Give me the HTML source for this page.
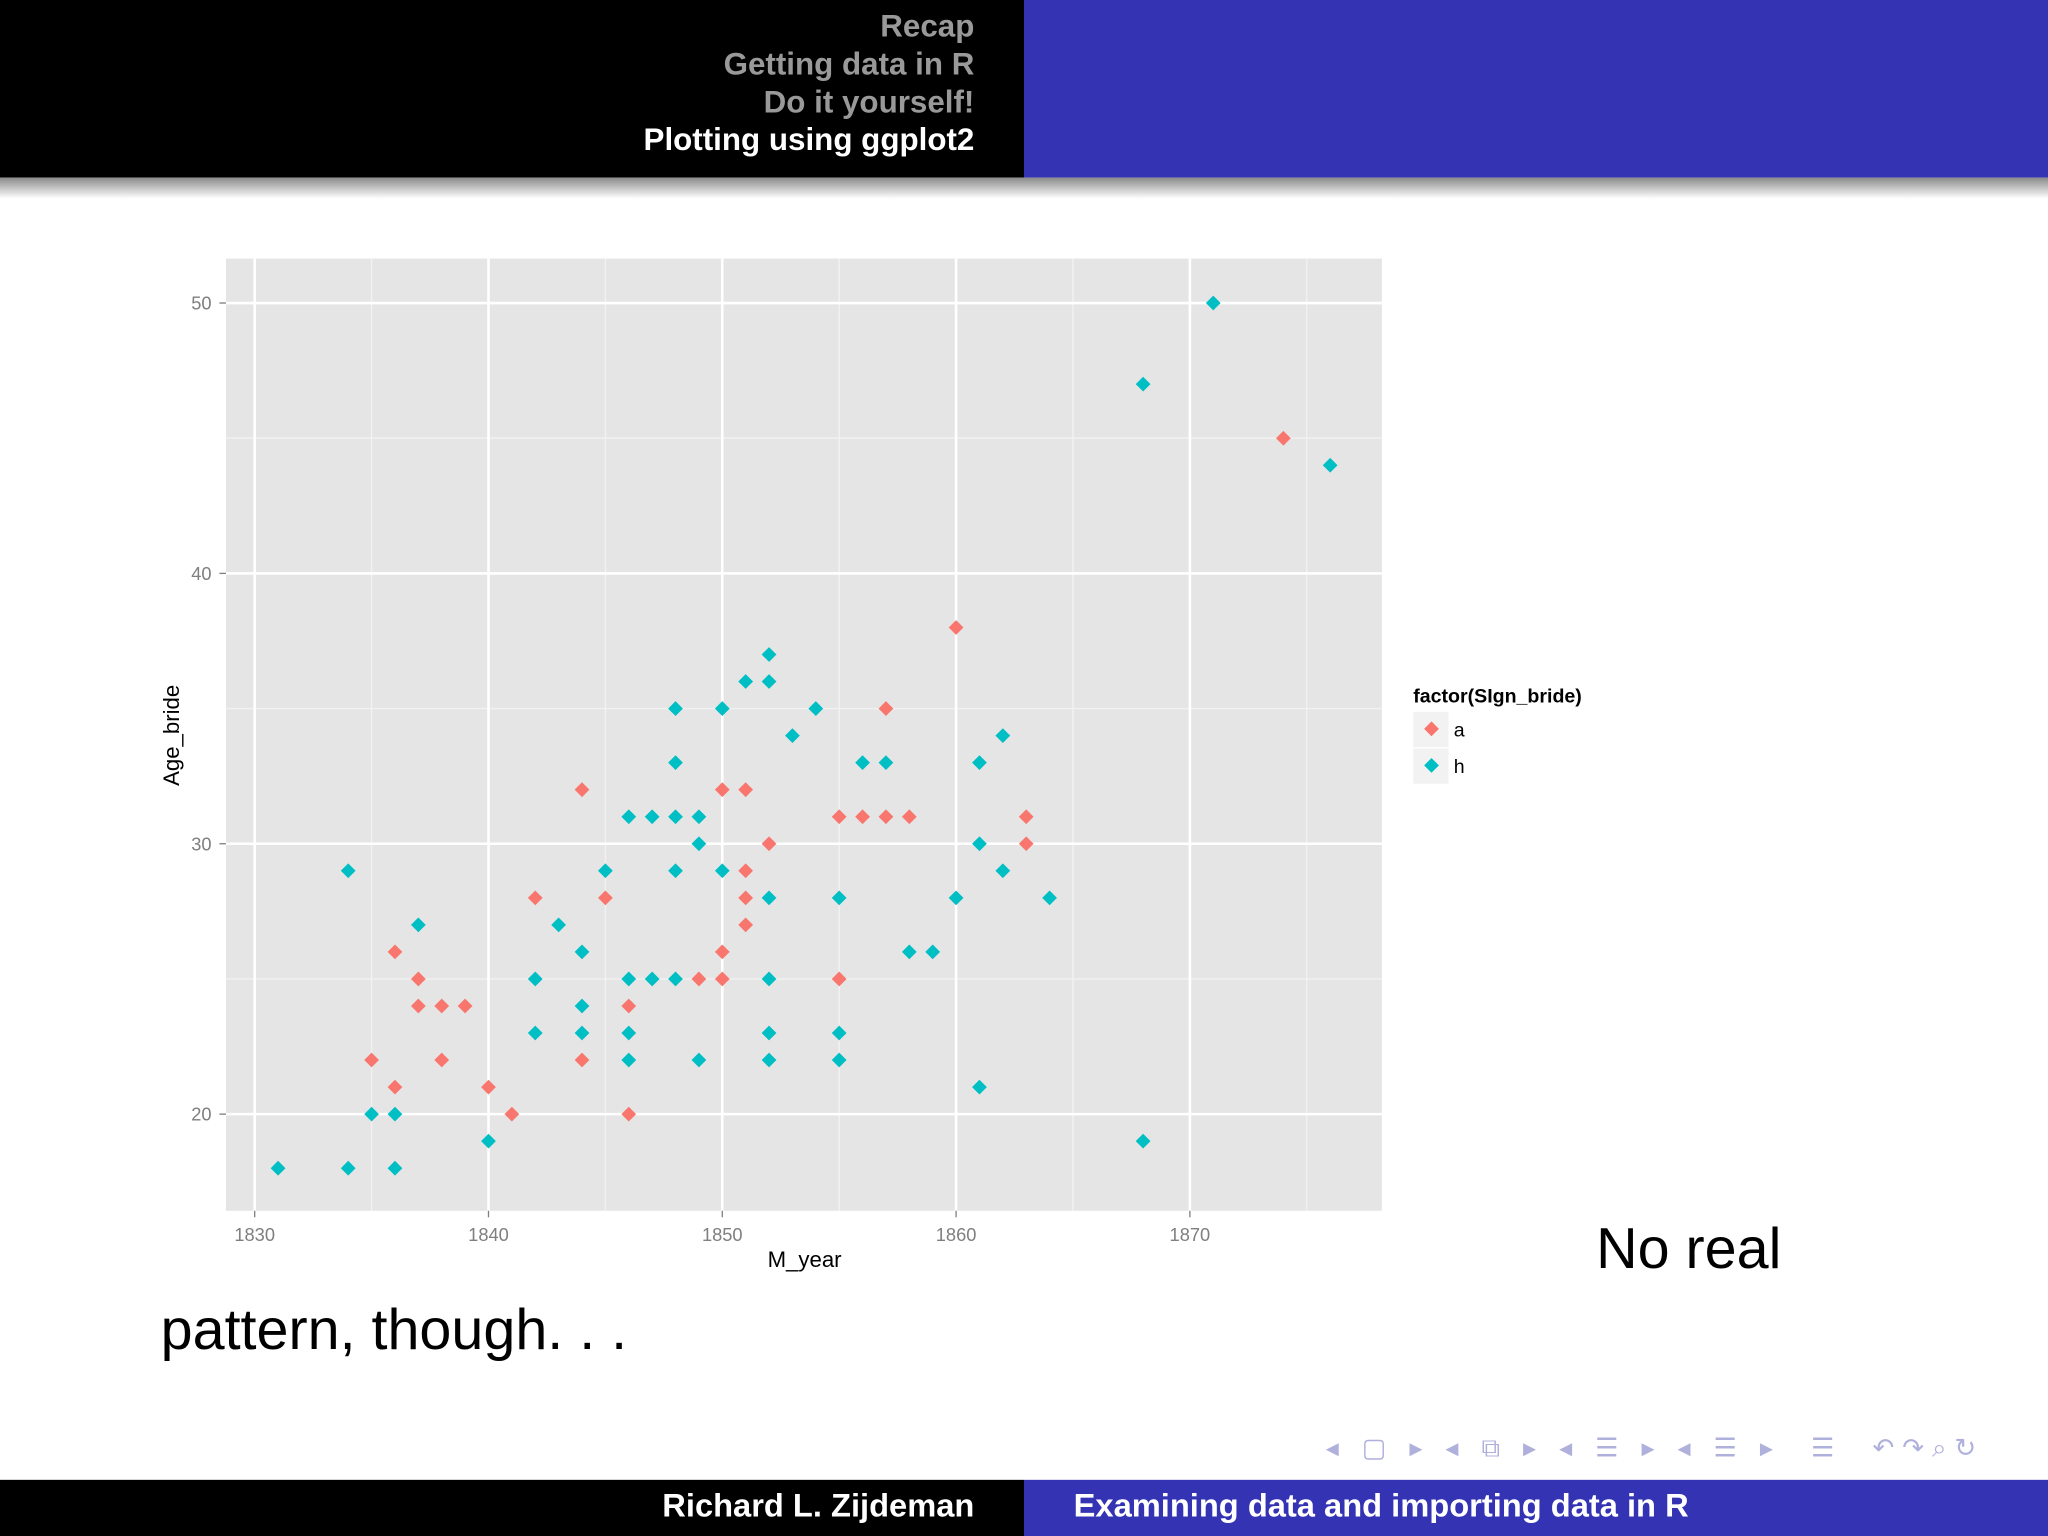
<!DOCTYPE html>
<html><head><meta charset="utf-8"><style>
body{margin:0;width:2048px;height:1536px;overflow:hidden;background:#fff;font-family:"Liberation Sans",sans-serif}
#wrap{position:absolute;left:0;top:0;width:1568px;height:1176px;transform:scale(1.306122);transform-origin:0 0}
.abs{position:absolute}
</style></head><body>
<div id="wrap">
<div class="abs" style="left:0;top:0;width:784px;height:136px;background:#000"></div>
<div class="abs" style="left:784px;top:0;width:784px;height:136px;background:#3333b3"></div>
<div class="abs" style="left:0;top:136px;width:1568px;height:16px;background:linear-gradient(#8a8a8a,#fff)"></div>
<div class="abs" style="right:822px;top:6px;text-align:right;font-size:24px;line-height:29px;font-weight:bold;color:#999">
<div>Recap</div>
<div>Getting data in R</div>
<div>Do it yourself!</div>
<div style="color:#fff">Plotting using ggplot2</div>
</div>
<svg class="abs" style="left:0;top:0" width="1568" height="1000">
<g id="g"></g>
</svg>
<div class="abs" style="left:1222px;top:932px;font-size:44px">No real</div>
<div class="abs" style="left:123px;top:994px;font-size:44px">pattern, though. . .</div>
<div class="abs" style="left:1015px;top:1096px;font-size:20px;color:#b0b0dd;letter-spacing:6px">◂ ▢ ▸ ◂ ⧉ ▸ ◂ ☰ ▸ ◂ ☰ ▸ &nbsp;☰ &nbsp;↶↷⌕↻</div>
<div class="abs" style="left:0;top:1133px;width:784px;height:43px;background:#000"></div>
<div class="abs" style="left:784px;top:1133px;width:784px;height:43px;background:#3333b3"></div>
<div class="abs" style="right:822px;top:1139px;color:#fff;font-size:25px;font-weight:bold">Richard L. Zijdeman</div>
<div class="abs" style="left:822px;top:1139px;color:#fff;font-size:25px;font-weight:bold">Examining data and importing data in R</div>
</div>
<script>
const xTicks=[1830,1840,1850,1860,1870];
const yTicks=[20,30,40,50];
const aYear=[1835,1836,1836,1837,1837,1838,1838,1839,1840,1841,1842,1844,1844,1845,1846,1846,1849,1850,1850,1850,1851,1851,1851,1851,1852,1855,1855,1856,1857,1857,1858,1860,1863,1863,1874];
const aAge=[22,26,21,25,24,24,22,24,21,20,28,32,22,28,24,20,25,32,26,25,32,29,28,27,30,31,25,31,35,31,31,38,31,30,45];
const hYear=[1831,1834,1834,1835,1836,1836,1837,1840,1842,1842,1843,1844,1844,1844,1845,1846,1846,1846,1846,1847,1847,1848,1848,1848,1848,1848,1849,1849,1849,1850,1850,1851,1852,1852,1852,1852,1852,1852,1853,1854,1855,1855,1855,1856,1857,1858,1859,1860,1861,1861,1861,1862,1862,1864,1868,1868,1871,1876];
const hAge=[18,29,18,20,20,18,27,19,25,23,27,26,24,23,29,31,25,23,22,31,25,35,33,31,29,25,31,30,22,35,29,36,37,36,28,25,23,22,34,35,28,23,22,33,33,26,26,28,33,30,21,34,29,28,47,19,50,44];
const X=v=>195+(v-1830)*17.9, Y=v=>232+(50-v)*20.7;
const NS='http://www.w3.org/2000/svg', g=document.getElementById('g');
function mk(t,a){const e=document.createElementNS(NS,t);for(const k in a)e.setAttribute(k,a[k]);g.appendChild(e);return e;}
let e=mk('rect',{x:173,y:198,width:885,height:729,fill:'#e5e5e5'});


for(let v=1835;v<=1875;v+=10){e=mk('line',{x1:X(v),x2:X(v),y1:198,y2:927,stroke:'#f2f2f2','stroke-width':1});

}
for(let v=25;v<=45;v+=10){e=mk('line',{x1:173,x2:1058,y1:Y(v),y2:Y(v),stroke:'#f2f2f2','stroke-width':1});

}
xTicks.forEach(v=>{e=mk('line',{x1:X(v),x2:X(v),y1:198,y2:927,stroke:'#fff','stroke-width':2});


mk('line',{x1:X(v),x2:X(v),y1:927,y2:932,stroke:'#7f7f7f'});
e=mk('text',{x:X(v),y:950,'text-anchor':'middle','font-size':14,fill:'#7f7f7f'});e.textContent=v;

});
yTicks.forEach(v=>{e=mk('line',{x1:173,x2:1058,y1:Y(v),y2:Y(v),stroke:'#fff','stroke-width':2});


mk('line',{x1:168,x2:173,y1:Y(v),y2:Y(v),stroke:'#7f7f7f'});
e=mk('text',{x:162,y:Y(v)+5,'text-anchor':'end','font-size':14,fill:'#7f7f7f'});e.textContent=v;

});
function pt(x,y,c,n){e=mk('rect',{x:x-4,y:y-4,width:8,height:8,fill:c,transform:`rotate(45 ${x} ${y})`});

}
aYear.forEach((v,i)=>pt(X(v),Y(aAge[i]),'#f8766d','point-a'));
hYear.forEach((v,i)=>pt(X(v),Y(hAge[i]),'#00bfc4','point-h'));
e=mk('text',{x:616,y:970,'text-anchor':'middle','font-size':17});e.textContent='M_year';


e=mk('text',{x:137,y:563,'text-anchor':'middle','font-size':17,transform:'rotate(-90 137 563)'});e.textContent='Age_bride';


e=mk('text',{x:1082,y:538,'font-size':15,'font-weight':'bold'});e.textContent='factor(SIgn_bride)';


[['a','#f8766d',545],['h','#00bfc4',573]].forEach(([l,c,y])=>{
e=mk('rect',{x:1082,y:y,width:27,height:27,fill:'#f2f2f2'});


pt(1096,y+13,c,'legend-symbol');
e=mk('text',{x:1113,y:y+19,'font-size':15});e.textContent=l;

});
</script>
</body></html>
